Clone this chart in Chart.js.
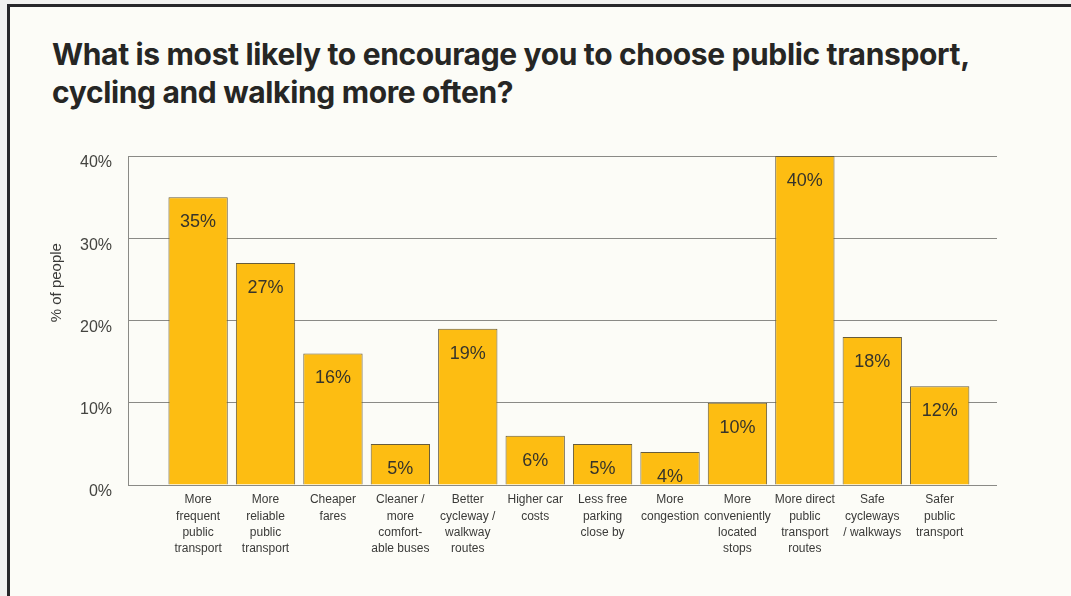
<!DOCTYPE html>
<html>
<head>
<meta charset="utf-8">
<script src="https://cdn.jsdelivr.net/npm/chart.js@4.4.0/dist/chart.umd.min.js"></script>
<style>
  html, body { margin: 0; padding: 0; background: #f2f2f0; }
  #frame {
    position: absolute; left: 7px; top: 4px; width: 1100px; height: 620px;
    background: #fcfcf7; border-top: 3px solid #28282a; border-left: 3px solid #28282a;
  }
  #titulo {
    position: absolute; left: 52px; top: 35px; margin: 0;
    font-family: Inter, sans-serif; font-weight: 700; font-size: 30px;
    line-height: 38px; letter-spacing: -0.35px; color: #262624;
  }
  #wrap { position: absolute; left: 0; top: 0; width: 1071px; height: 596px; }
</style>
</head>
<body>
<div id="frame"></div>
<h1 id="titulo">What is most likely to encourage you to choose public transport,<br>cycling and walking more often?</h1>
<div id="wrap"><canvas id="grafico"></canvas></div>
<script>
const categorias = [
  ["More", "frequent", "public", "transport"],
  ["More", "reliable", "public", "transport"],
  ["Cheaper", "fares"],
  ["Cleaner /", "more", "comfort-", "able buses"],
  ["Better", "cycleway /", "walkway", "routes"],
  ["Higher car", "costs"],
  ["Less free", "parking", "close by"],
  ["More", "congestion"],
  ["More", "conveniently", "located", "stops"],
  ["More direct", "public", "transport", "routes"],
  ["Safe", "cycleways", "/ walkways"],
  ["Safer", "public", "transport"]
];
const porcentajes = [35, 27, 16, 5, 19, 6, 5, 4, 10, 40, 18, 12];
const ticksY = [0, 10, 20, 30, 40];

const etiquetasBarras = {
  id: "etiquetasBarras",
  afterDatasetsDraw(chart) {
    const ctx = chart.ctx;
    const meta = chart.getDatasetMeta(0);
    ctx.save();
    ctx.font = "18px 'Liberation Sans', Arial, sans-serif";
    ctx.fillStyle = "#36342b";
    ctx.textAlign = "center";
    ctx.textBaseline = "middle";
    meta.data.forEach((bar, i) => {
      ctx.fillText(porcentajes[i] + "%", bar.x, bar.y + 25);
    });
    ctx.restore();
  }
};

const tituloEjeY = {
  id: "tituloEjeY",
  afterDraw(chart) {
    const ctx = chart.ctx;
    const area = chart.chartArea;
    ctx.save();
    ctx.translate(57, area.top + (area.bottom - area.top) * 0.385);
    ctx.rotate(-Math.PI / 2);
    ctx.font = "15px 'Liberation Sans', Arial, sans-serif";
    ctx.fillStyle = "#3a3a38";
    ctx.textAlign = "center";
    ctx.textBaseline = "middle";
    ctx.fillText("% of people", 0, 0);
    ctx.restore();
  }
};

new Chart(document.getElementById("grafico"), {
  type: "bar",
  data: {
    datasets: [
      {
        label: "% of people",
        data: porcentajes.map((v, i) => ({ x: i, y: v })),
        backgroundColor: "#fdbd12",
        borderColor: "#675c3c",
        borderWidth: 1,
        barPercentage: 0.88,
        categoryPercentage: 1
      }
    ]
  },
  options: {
    responsive: true,
    maintainAspectRatio: false,
    animation: false,
    layout: { padding: { left: 0, top: 156, right: 74, bottom: 31 } },
    plugins: { legend: { display: false }, tooltip: { enabled: false } },
    scales: {
      x: {
        type: "linear",
        min: -1.04,
        max: 11.85,
        offset: false,
        grid: { display: false, drawTicks: false },
        border: { display: false },
        afterBuildTicks(scale) {
          scale.ticks = categorias.map((_, i) => ({ value: i }));
        },
        afterFit(scale) { scale.height = 80; },
        ticks: {
          autoSkip: false,
          maxRotation: 0,
          padding: 7,
          color: "#3a3a38",
          font: { family: "'Liberation Sans', Arial, sans-serif", size: 12, lineHeight: 1.35 },
          callback: (value) => categorias[value]
        }
      },
      y: {
        min: 0,
        max: 40,
        afterBuildTicks(scale) {
          scale.ticks = ticksY.map((v) => ({ value: v }));
        },
        afterFit(scale) { scale.width = 128; },
        grid: { color: "#8a8a86", lineWidth: 1, drawTicks: false },
        border: { display: true, color: "#8a8a86" },
        ticks: {
          padding: 16,
          labelOffset: 7,
          color: "#444440",
          font: { family: "'Liberation Sans', Arial, sans-serif", size: 16 },
          callback: (value) => value + "%"
        }
      }
    }
  },
  plugins: [etiquetasBarras, tituloEjeY]
});
</script>
</body>
</html>
